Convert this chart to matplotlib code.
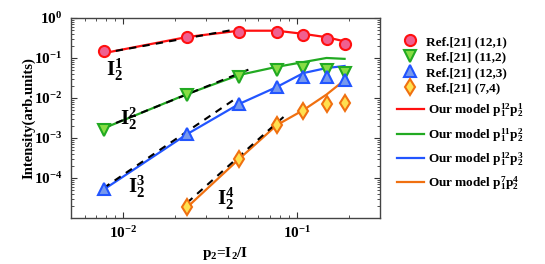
import numpy as np
import matplotlib
matplotlib.use("Agg")
import matplotlib.pyplot as plt
from matplotlib.ticker import LogLocator, LogFormatterMathtext, NullFormatter

plt.rcParams['font.family'] = ['Liberation Serif', 'DejaVu Serif']
plt.rcParams['font.weight'] = 'bold'
plt.rcParams['mathtext.fontset'] = 'custom'
plt.rcParams['mathtext.rm'] = 'Liberation Serif:bold'
plt.rcParams['mathtext.it'] = 'Liberation Serif:bold'
plt.rcParams['mathtext.bf'] = 'Liberation Serif:bold'
plt.rcParams['mathtext.default'] = 'rm'
plt.rcParams['axes.unicode_minus'] = False

# p2 values of the Ref.[21] points
p2 = [0.0078, 0.0234, 0.0465, 0.0765, 0.109, 0.148, 0.188]
p2_74 = p2[1:]

# Ref.[21] data
ref_121 = [0.150, 0.335, 0.447, 0.447, 0.376, 0.300, 0.224]
ref_112 = [0.00158, 0.0119, 0.0335, 0.050, 0.056, 0.050, 0.042]
ref_123 = [5.3e-5, 1.26e-3, 7.1e-3, 0.0188, 0.0335, 0.0335, 0.028]
ref_74 = [1.88e-5, 3.0e-4, 2.1e-3, 4.7e-3, 7.1e-3, 7.5e-3]

# our model curves
mod_121 = [0.133, 0.335, 0.48, 0.48, 0.40, 0.33, 0.26]
mod_112 = [0.00178, 0.0126, 0.0376, 0.060, 0.079, 0.10, 0.095]
mod_123 = [5.3e-5, 1.26e-3, 7.1e-3, 0.0188, 0.042, 0.056, 0.063]
mod_74 = [1.88e-5, 3.0e-4, 2.1e-3, 5.0e-3, 0.0122, 0.028]

# dashed power-law guides (start and end points)
guide_x = [[0.0076, 0.0458], [0.0077, 0.0537], [0.0077, 0.0458], [0.0233, 0.0887]]
guide_y = [[0.131, 0.53], [0.00178, 0.053], [5.6e-5, 0.0106], [2.4e-5, 0.0042]]

labels_I = [r'I$_2^1$', r'I$_2^2$', r'I$_2^3$', r'I$_2^4$']
labels_x = [0.00887, 0.0108, 0.0120, 0.0391]
labels_y = [0.050, 0.0030, 6.0e-5, 3.0e-5]

fig = plt.figure(figsize=(5.45, 2.64), dpi=100)
ax = fig.add_axes([0.130, 0.174, 0.567, 0.758])

red, green, blue, orange = '#ff1010', '#22aa22', '#2255ff', '#f07010'

ax.plot(p2, mod_121, color=red, lw=1.6, zorder=2)
ax.plot(p2, mod_112, color=green, lw=1.6, zorder=2)
ax.plot(p2, mod_123, color=blue, lw=1.6, zorder=2)
ax.plot(p2_74, mod_74, color=orange, lw=1.6, zorder=2)

for gx, gy in zip(guide_x, guide_y):
    ax.plot(gx, gy, color='black', lw=1.5, ls=(0, (3.5, 3)), zorder=3)

h1, = ax.plot(p2, ref_121, 'o', ms=8, mfc='#f06090', mec=red, mew=1.5, zorder=4)
h2, = ax.plot(p2, ref_112, 'v', ms=9, mfc='#88dd44', mec=green, mew=1.5, zorder=4)
h3, = ax.plot(p2, ref_123, '^', ms=9, mfc='#7799ee', mec=blue, mew=1.5, zorder=4)
h4, = ax.plot(p2_74, ref_74, 'd', ms=8.5, mfc='#ffe050', mec=orange, mew=1.5, zorder=4)

l1, = ax.plot([], [], color=red, lw=1.6)
l2, = ax.plot([], [], color=green, lw=1.6)
l3, = ax.plot([], [], color=blue, lw=1.6)
l4, = ax.plot([], [], color=orange, lw=1.6)

for t, x, y in zip(labels_I, labels_x, labels_y):
    ax.text(x, y, t, fontsize=15, fontweight='bold', ha='center', va='center')

ax.set_xscale('log')
ax.set_yscale('log')
ax.set_xlim(0.005, 0.3)
ax.set_ylim(1e-5, 1)
ax.yaxis.set_major_locator(LogLocator(base=10, numticks=10))
ax.yaxis.set_major_formatter(LogFormatterMathtext())
ax.yaxis.set_minor_locator(LogLocator(base=10, subs=np.arange(2, 10), numticks=10))
ax.yaxis.set_minor_formatter(NullFormatter())
ax.xaxis.set_minor_formatter(NullFormatter())
ax.set_yticks([1e-4, 1e-3, 1e-2, 1e-1, 1])

ax.tick_params(which='both', direction='in', top=True, right=True, labelsize=11, colors='#333333', labelcolor='black')
ax.tick_params(which='major', length=4)
ax.tick_params(which='minor', length=2)
ax.tick_params(axis='x', which='major', pad=5)
ax.tick_params(axis='y', which='major', pad=6)
for s in ax.spines.values():
    s.set_color('#444444')
    s.set_linewidth(1.0)

ax.set_xlabel(r'p$_2$=I$_2$/I', fontsize=11, fontweight='bold', labelpad=3)
ax.set_ylabel('Intensity(arb.units)', fontsize=10.5, fontweight='bold')
ax.yaxis.set_label_coords(-0.115, 0.5)

leg1 = fig.legend([h1, h2, h3, h4],
                  ['Ref.[21] (12,1)', 'Ref.[21] (11,2)', 'Ref.[21] (12,3)', 'Ref.[21] (7,4)'],
                  loc='upper left', bbox_to_anchor=(0.735, 0.865), frameon=False,
                  fontsize=9.5, handlelength=1.4, handletextpad=0.5, labelspacing=0.25,
                  borderpad=0, borderaxespad=0)
leg2 = fig.legend([l1, l2, l3, l4],
                  [r'Our model p$_1^{12}$p$_2^1$', r'Our model p$_1^{11}$p$_2^2$',
                   r'Our model p$_1^{12}$p$_2^3$', r'Our model p$_1^{7}$p$_2^4$'],
                  loc='upper left', bbox_to_anchor=(0.728, 0.615), frameon=False,
                  fontsize=9.5, handlelength=2.1, handletextpad=0.25, labelspacing=0.5,
                  borderpad=0, borderaxespad=0)

fig.savefig('out.png', dpi=100)
